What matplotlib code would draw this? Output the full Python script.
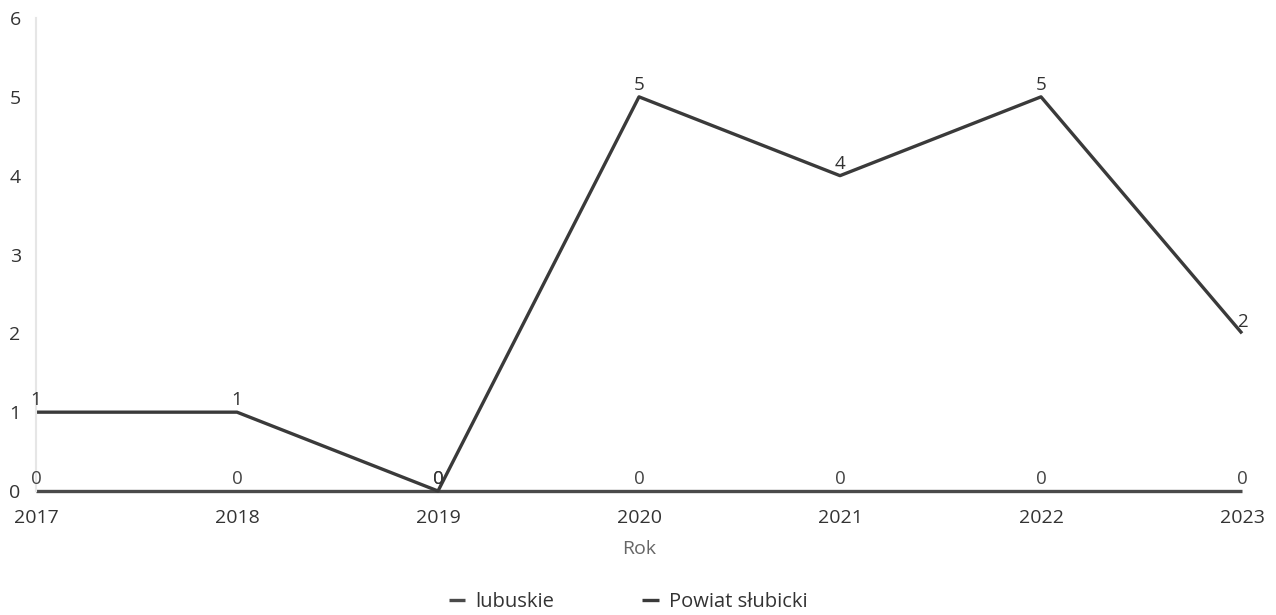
import matplotlib
matplotlib.use("Agg")
import matplotlib.pyplot as plt

years = [2017, 2018, 2019, 2020, 2021, 2022, 2023]
lubuskie = [0, 0, 0, 0, 0, 0, 0]
powiat = [1, 1, 0, 5, 4, 5, 2]
series_names = ["lubuskie", "Powiat słubicki"]
yticks = [0, 1, 2, 3, 4, 5, 6]

plt.rcParams['font.family'] = ['Open Sans', 'DejaVu Sans']

fig = plt.figure(figsize=(12.76, 6.15), dpi=100)
ax = fig.add_axes([36/1276, 1 - 491/615, (1242-36)/1276, (491-18)/615])

c_lub = "#4a4a4a"
c_pow = "#3a3a3a"
l1, = ax.plot(years, lubuskie, color=c_lub, lw=2.4, solid_capstyle='butt', label=series_names[0], clip_on=False)
l2, = ax.plot(years, powiat, color=c_pow, lw=2.4, solid_capstyle='butt', label=series_names[1], clip_on=False)

for x, y in zip(years, lubuskie):
    ax.annotate(str(y), (x, y), xytext=(0, 2), textcoords='offset points',
                ha='center', va='bottom', fontsize=13.5, color="#444444")
for x, y in zip(years, powiat):
    ax.annotate(str(y), (x, y), xytext=(0, 2), textcoords='offset points',
                ha='center', va='bottom', fontsize=13.5, color="#333333")

ax.set_xlim(2017, 2023)
ax.set_ylim(0, 6)
ax.set_xticks(years)
ax.set_xticklabels([str(y) for y in years])
ax.set_yticks(yticks)
ax.tick_params(axis='both', length=0, labelsize=14, colors="#333333")
ax.tick_params(axis='x', pad=13)
ax.tick_params(axis='y', pad=11)
for s in ['top', 'right', 'bottom']:
    ax.spines[s].set_visible(False)
ax.spines['left'].set_color("#e6e6e6")
ax.spines['left'].set_linewidth(1.5)

ax.set_xlabel("Rok", fontsize=14, color="#666666", labelpad=9)

leg = fig.legend(handles=[l1, l2], loc='center', bbox_to_anchor=(628/1276, 1 - 602/615),
                 ncol=2, frameon=False, fontsize=14.5, handlelength=0.8,
                 handletextpad=0.5, columnspacing=4.4)
for t in leg.get_texts():
    t.set_color("#333333")

fig.savefig("out.png", dpi=100)
